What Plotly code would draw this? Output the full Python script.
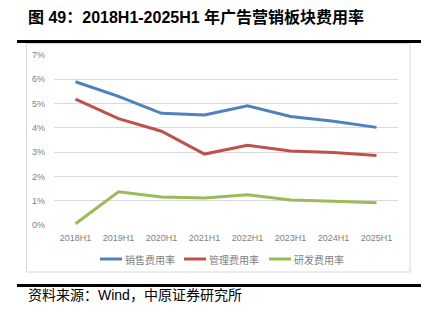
import plotly.graph_objects as go

categories = ["2018H1", "2019H1", "2020H1", "2021H1", "2022H1", "2023H1", "2024H1", "2025H1"]
sales_rate = [5.90, 5.30, 4.60, 4.53, 4.91, 4.47, 4.27, 4.02]
admin_rate = [5.18, 4.38, 3.86, 2.92, 3.28, 3.05, 2.99, 2.86]
rd_rate = [0.05, 1.37, 1.15, 1.11, 1.25, 1.03, 0.98, 0.92]
series_names = ["销售费用率", "管理费用率", "研发费用率"]
colors = ["#4F81BD", "#C0504D", "#9BBB59"]
y_ticks = [0, 1, 2, 3, 4, 5, 6, 7]
y_tick_labels = [f"{v}%" for v in y_ticks]

W, H = 430, 333
L, R, T, B = 54, 398, 55, 225  # plot area in px


def px_x(x):
    return (x - L) / (R - L)


def px_y(y):
    return (B - y) / (B - T)


fig = go.Figure()
for name, vals, c in zip(series_names, [sales_rate, admin_rate, rd_rate], colors):
    fig.add_trace(go.Scatter(x=categories, y=vals, mode="lines", name=name,
                             line=dict(color=c, width=3), showlegend=False))

shapes = []
# chart frame
shapes.append(dict(type="rect", xref="paper", yref="paper",
                   x0=px_x(26.5), x1=px_x(410), y0=px_y(272), y1=px_y(43.5),
                   line=dict(color="#D9D9D9", width=1), fillcolor="rgba(0,0,0,0)", layer="below"))
# title rule
shapes.append(dict(type="line", xref="paper", yref="paper",
                   x0=px_x(17), x1=px_x(421), y0=px_y(41.5), y1=px_y(41.5),
                   line=dict(color="#000000", width=3)))
# bottom rule
shapes.append(dict(type="line", xref="paper", yref="paper",
                   x0=px_x(17), x1=px_x(421), y0=px_y(285.5), y1=px_y(285.5),
                   line=dict(color="#000000", width=3)))

annotations = []
# custom legend
leg_x = [100, 184, 269]
leg_y = 259
for name, c, lx in zip(series_names, colors, leg_x):
    shapes.append(dict(type="line", xref="paper", yref="paper",
                       x0=px_x(lx), x1=px_x(lx + 22), y0=px_y(leg_y), y1=px_y(leg_y),
                       line=dict(color=c, width=3)))
    annotations.append(dict(text=name, xref="paper", yref="paper", x=px_x(lx + 23), y=px_y(leg_y),
                            xanchor="left", yanchor="middle", showarrow=False,
                            font=dict(size=10, color="#7F7F7F", family="Noto Sans CJK SC")))

annotations.append(dict(text="<b>图 49：2018H1-2025H1 年广告营销板块费用率</b>", xref="paper", yref="paper",
                        x=px_x(26), y=px_y(17.5), xanchor="left", yanchor="middle", showarrow=False,
                        font=dict(size=16, color="#000000", family="Liberation Sans, Noto Sans CJK SC")))
annotations.append(dict(text="资料来源：Wind，中原证券研究所", xref="paper", yref="paper",
                        x=px_x(26), y=px_y(295), xanchor="left", yanchor="middle", showarrow=False,
                        font=dict(size=14, color="#000000", family="Liberation Sans, Noto Sans CJK SC")))

fig.update_layout(
    width=W, height=H,
    margin=dict(l=L, r=W - R, t=T, b=H - B, pad=0),
    paper_bgcolor="white", plot_bgcolor="white",
    shapes=shapes, annotations=annotations,
    xaxis=dict(type="category", range=[-0.5, 7.5], showgrid=False, showline=False, zeroline=False,
               ticks="", tickfont=dict(size=9, color="#7F7F7F", family="Liberation Sans"),
               ticklabelstandoff=6),
    yaxis=dict(range=[0, 7], tickvals=y_ticks, ticktext=y_tick_labels, showgrid=True,
               gridcolor="#D9D9D9", gridwidth=1, zeroline=False, showline=False, ticks="",
               tickfont=dict(size=9, color="#7F7F7F", family="Liberation Sans"),
               ticklabelstandoff=8),
    font=dict(family="Liberation Sans, Noto Sans CJK SC"),
)
fig.write_html("out.html")
